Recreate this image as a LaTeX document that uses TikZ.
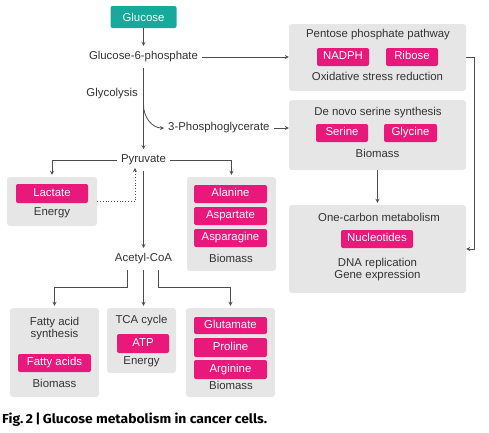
\documentclass[tikz,border=0pt]{standalone}
\usepackage{fontspec}
\setmainfont{Liberation Sans}
\newfontfamily\capfont{Fira Sans}
\usetikzlibrary{positioning}
\definecolor{tealfill}{HTML}{17A99B}
\definecolor{pinkfill}{HTML}{E8197A}
\definecolor{grayfill}{HTML}{E6E6E6}
\definecolor{inktext}{HTML}{333333}
\definecolor{inkline}{HTML}{4D4D4D}
\tikzset{
  grayrect/.style={fill=grayfill, rounded corners=3pt, inner sep=0pt},
  pinkrect/.style={fill=pinkfill, text=white, rounded corners=2pt, inner sep=0pt,
    minimum height=18pt, text height=8pt, text depth=2.2pt},
  metab/.style={text=inktext, inner xsep=4pt, inner ysep=5.5pt},
  boxtext/.style={text=inktext, inner sep=0pt, text height=8pt, text depth=2.2pt},
  flow/.style={draw=inkline, line width=0.8pt, -stealth},
}
\begin{document}
\begin{tikzpicture}[x=1pt, y=-1pt, font=\fontsize{11.4}{12}\selectfont]
		\useasboundingbox (0,0) rectangle (489,432);
		
		% main pathway
		\node[fill=tealfill, text=white, rounded corners=2pt, minimum width=66pt, minimum height=22pt, inner sep=0pt] (glucose) at (143.5,17) {Glucose};
		\node[metab] (g6p) at (143.5,57) {Glucose-6-phosphate};
		\node[metab, anchor=east] (glycolysis) at (142,94) {Glycolysis};
		\node[metab, anchor=west] (pg3) at (164,128) {3-Phosphoglycerate};
		\node[metab] (pyruvate) at (143.5,160) {Pyruvate};
		\node[metab] (acetyl) at (143.5,259) {Acetyl-CoA};
		
		% right column
		\node[grayrect, minimum width=177pt, minimum height=67pt] (ppbox) at (377.5,57.5) {};
		\node[boxtext] (pptitle) at (378,35) {Pentose phosphate pathway};
		\node[pinkrect, minimum width=52pt] (nadph) at (343,57) {NADPH};
		\node[pinkrect, minimum width=52pt] (ribose) at (412,57) {Ribose};
		\node[boxtext] (oxid) at (377.5,78) {Oxidative stress reduction};
		
		\node[grayrect, minimum width=177pt, minimum height=70pt] (serbox) at (377.5,135) {};
		\node[boxtext] (sertitle) at (378,113) {De novo serine synthesis};
		\node[pinkrect, minimum width=52pt] (serine) at (342,133) {Serine};
		\node[pinkrect, minimum width=53pt] (glycine) at (410.5,133) {Glycine};
		\node[boxtext] (serbio) at (377.5,155) {Biomass};
		
		\node[grayrect, minimum width=177pt, minimum height=88pt] (ocbox) at (377.5,249) {};
		\node[boxtext] (octitle) at (379,219) {One-carbon metabolism};
		\node[pinkrect, minimum width=72pt] (nucleo) at (377,239) {Nucleotides};
		\node[text=inktext, inner sep=0pt, align=center] (dna) at (377.5,270) {DNA replication\\Gene expression};
		
		% pyruvate products
		\node[grayrect, minimum width=90pt, minimum height=49pt] (lacbox) at (52,201.5) {};
		\node[pinkrect, minimum width=72pt, minimum height=19pt] (lactate) at (52,193.5) {Lactate};
		\node[boxtext] (lacenergy) at (52,213) {Energy};
		
		\node[grayrect, minimum width=89pt, minimum height=94pt] (alabox) at (231.5,224) {};
		\node[pinkrect, minimum width=73pt] (alanine) at (230.5,194) {Alanine};
		\node[pinkrect, minimum width=73pt] (aspartate) at (230.5,216) {Aspartate};
		\node[pinkrect, minimum width=73pt] (asparagine) at (230.5,238) {Asparagine};
		\node[boxtext] (alabio) at (231,260) {Biomass};
		
		% acetyl-CoA products
		\node[grayrect, minimum width=89pt, minimum height=89pt] (fabox) at (54.5,352.5) {};
		\node[text=inktext, inner sep=0pt, align=center] (fatitle) at (54.5,329) {Fatty acid\\synthesis};
		\node[pinkrect, minimum width=73pt] (fattyacids) at (54.5,363) {Fatty acids};
		\node[boxtext] (fabio) at (54.5,385) {Biomass};
		
		\node[grayrect, minimum width=69pt, minimum height=65pt] (tcabox) at (141.5,340.5) {};
		\node[boxtext] (tcatitle) at (141.5,321) {TCA cycle};
		\node[pinkrect, minimum width=52pt, minimum height=19pt] (atp) at (143,343.5) {ATP};
		\node[boxtext] (tcaenergy) at (141.5,362) {Energy};
		
		\node[grayrect, minimum width=89pt, minimum height=89pt] (aabox) at (230.5,352.5) {};
		\node[pinkrect, minimum width=73pt, minimum height=17pt] (glutamate) at (230.5,325.5) {Glutamate};
		\node[pinkrect, minimum width=73pt, minimum height=19pt] (proline) at (230.5,347.5) {Proline};
		\node[pinkrect, minimum width=73pt, minimum height=19pt] (arginine) at (230.5,369.5) {Arginine};
		\node[boxtext] (aabio) at (231,387) {Biomass};
		
		% connectors
		\coordinate (branch) at (143.5,105);
		\coordinate (split) at (143.5,287);
		\draw[flow] (glucose) -- (g6p);
		\draw[flow] (g6p.east) -- (g6p.east -| ppbox.west);
		\draw[flow] (g6p) -- (pyruvate);
		\draw[flow] (branch) to[out=-90, in=180] (pg3.west);
		\draw[flow] (pg3.east) -- (pg3.east -| serbox.west);
		\draw[flow, shorten >=2pt] (pyruvate.west) -| (lacbox.north);
		\draw[flow, shorten >=2pt] (pyruvate.east) -| (alabox.north);
		\draw[flow, dotted, shorten >=-3pt] (lacbox.east) -| ([xshift=-8.5pt]pyruvate.south);
		\draw[flow] (pyruvate) -- (acetyl);
		\draw[flow, shorten >=2pt] ([xshift=-16.5pt]acetyl.south) -- ([xshift=-16.5pt]acetyl.south |- split) -| (fabox.north);
		\draw[flow, shorten >=2pt] (acetyl.south) -- (acetyl.south |- tcabox.north);
		\draw[flow, shorten >=2pt] ([xshift=14.5pt]acetyl.south) -- ([xshift=14.5pt]acetyl.south |- split) -| (aabox.north);
		\draw[flow, shorten >=2pt] (serbox) -- (serbox.south |- ocbox.north);
		\draw[flow] (ppbox.east) -- ++(8,0) |- (ocbox.east);
		
		% caption
		\node[anchor=west, inner sep=0pt] (caption) at (2,420) {\resizebox{265pt}{\height}{\capfont\bfseries\fontsize{13}{15}\selectfont Fig.\,2\,|\,Glucose metabolism in cancer cells.}};
		
	\end{tikzpicture}
\end{document}
